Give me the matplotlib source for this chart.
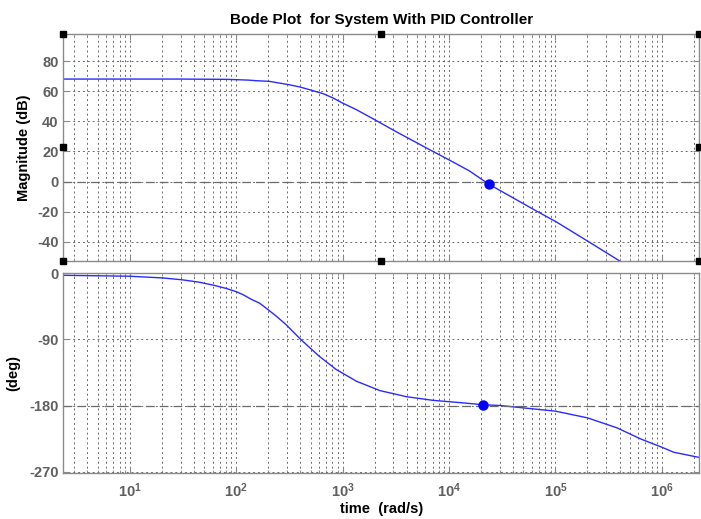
import matplotlib
matplotlib.use("Agg")
import matplotlib.pyplot as plt
from matplotlib.ticker import LogLocator, NullFormatter

plt.rcParams['font.family'] = ['Liberation Sans', 'DejaVu Sans']
plt.rcParams['font.weight'] = 'bold'
plt.rcParams['mathtext.fontset'] = 'custom'
plt.rcParams['mathtext.rm'] = 'Liberation Sans:bold'
plt.rcParams['mathtext.bf'] = 'Liberation Sans:bold'
plt.rcParams['mathtext.default'] = 'rm'
plt.rcParams['axes.unicode_minus'] = False

# magnitude curve (rad/s, dB)
w_mag = [2.37, 30, 83, 100, 130, 155, 204, 251, 316, 398, 490, 660, 813, 1000, 1350, 2090,
         3160, 5250, 6170, 10000, 15500, 23700, 30200, 66100, 102000, 200000, 398000]
mag_db = [68.2, 68.2, 68.0, 67.8, 67.5, 67.1, 66.7, 65.6, 64.4, 62.9, 61.1, 58.4, 55.6, 52.2,
          47.8, 40.4, 33.3, 24.9, 22.2, 14.4, 7.1, -1.8, -6.0, -19.6, -26.9, -39.6, -52.7]

# phase curve (rad/s, deg)
w_ph = [2.37, 10, 20.4, 31.6, 45.2, 60.3, 80, 100, 117, 138, 166, 200, 240, 295, 339, 407,
        603, 871, 1350, 2240, 3980, 7080, 13500, 20900, 30200, 39800, 100000, 200000,
        380000, 631000, 1000000, 1290000, 2290000]
phase_deg = [-2.7, -4, -6.3, -9, -12.2, -16, -20.5, -25, -29.4, -35.3, -40.7, -49.7, -58.8,
             -70.1, -79, -90.5, -113, -131, -147, -159.7, -168, -173, -176.4, -179, -180,
             -181.8, -187.7, -196.8, -210.5, -225.5, -236.8, -243.6, -251]

# margin markers
gm_w, gm_db = 23700, -1.8
pm_w, pm_deg = 20900, -179

mag_ticks = [-40, -20, 0, 20, 40, 60, 80]
phase_ticks = [-270, -180, -90, 0]

xlim = (2.37, 2.25e6)
frame_col = '#8a8a8a'
tick_col = '#5f5f5f'
line_col = '#2a2aff'

fig = plt.figure(figsize=(7.01, 5.19), dpi=100)
ax1 = fig.add_axes([0.0903, 0.4977, 0.9073, 0.4368])
ax2 = fig.add_axes([0.0903, 0.0892, 0.9073, 0.3842])

for ax in (ax1, ax2):
    ax.set_xscale('log')
    ax.set_xlim(*xlim)
    ax.xaxis.set_major_locator(LogLocator(base=10, numticks=20))
    ax.xaxis.set_minor_locator(LogLocator(base=10, subs=range(2, 10), numticks=100))
    ax.xaxis.set_minor_formatter(NullFormatter())
    ax.grid(True, which='both', axis='x', linestyle=(0, (2, 3)), color='#6a6a6a', linewidth=0.7)
    ax.grid(True, which='major', axis='y', linestyle=(0, (2, 3)), color='#6a6a6a', linewidth=0.7)
    for s in ax.spines.values():
        s.set_color(frame_col)
        s.set_linewidth(1.0)
    ax.tick_params(which='both', direction='in', top=True, right=True, colors=frame_col,
                   labelcolor=tick_col, labelsize=10.5)
    ax.tick_params(which='minor', length=2)
    ax.tick_params(which='major', length=4)
    ax.set_axisbelow(True)

# magnitude
ax1.plot(w_mag, mag_db, color=line_col, lw=1.0)
ax1.axhline(0, color='#6a6a6a', lw=0.9, dashes=(7, 4))
ax1.plot([gm_w], [gm_db], 'o', color='#0000ff', ms=6.5)
ax1.set_ylim(-52.7, 98.2)
ax1.set_yticks(mag_ticks)
ax1.tick_params(axis='x', labelbottom=False)
ax1.set_ylabel('Magnitude (dB)', fontsize=10.5, fontweight='bold', labelpad=4)
ax1.set_title('Bode Plot  for System With PID Controller', fontsize=11, fontweight='bold', pad=7)

# phase
ax2.plot(w_ph, phase_deg, color=line_col, lw=1.0)
ax2.axhline(-180, color='#6a6a6a', lw=0.9, dashes=(7, 4))
ax2.plot([pm_w], [pm_deg], 'o', color='#0000ff', ms=6.5)
ax2.set_ylim(-271.5, 0)
ax2.set_yticks(phase_ticks)
ax2.set_ylabel('(deg)', fontsize=10.5, fontweight='bold', labelpad=6)
ax2.set_xlabel('time  (rad/s)', fontsize=10.5, fontweight='bold', labelpad=2)
ax2.tick_params(axis='x', pad=6)

# selection handles around the upper axes
for hx, hy in [(0, 0), (0.5, 0), (1, 0), (0, 0.5), (1, 0.5), (0, 1), (0.5, 1), (1, 1)]:
    ax1.plot(hx, hy, 's', color='black', ms=4.5, transform=ax1.transAxes, clip_on=False, zorder=5)

fig.savefig('out.png', dpi=100)
